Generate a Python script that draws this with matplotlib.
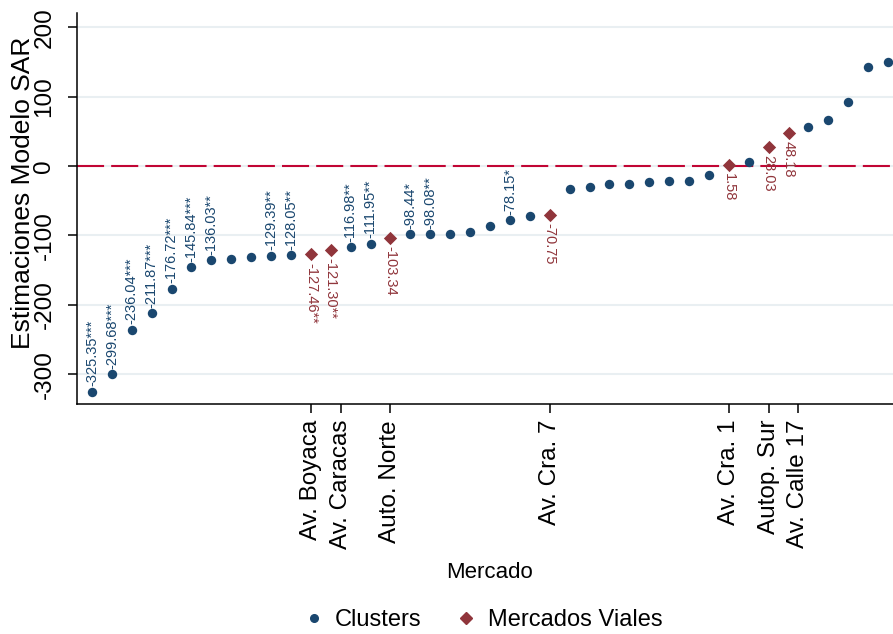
import numpy as np
import matplotlib
matplotlib.use("Agg")
import matplotlib.pyplot as plt
from matplotlib.lines import Line2D

plt.rcParams['font.family'] = ['Liberation Sans', 'DejaVu Sans']

# -----------------------------
# Data: SAR estimates
# -----------------------------
# clusters (None = no label drawn)
cluster_vals = [-325.35, -299.68, -236.04, -211.87, -176.72, -145.84, -136.03,
                -134.3, -131.4, -129.39, -128.05, -116.98, -111.95, -98.44,
                -98.08, -97.6, -95.2, -87.0, -78.15, -72.5, -33.8, -30.9,
                -26.6, -25.6, -22.7, -21.3, -21.3, -12.6, 5.3, 56.5, 66.7,
                92.8, 142.0, 150.0]
cluster_stars = ['***', '***', '***', '***', '***', '***', '**',
                 None, None, '**', '**', '**', '**', '*',
                 '**', None, None, None, '*', None, None, None,
                 None, None, None, None, None, None, None, None, None,
                 None, None, None]

# road markets
vial_names = ['Av. Boyaca', 'Av. Caracas', 'Auto. Norte', 'Av. Cra. 7',
              'Av. Cra. 1', 'Autop. Sur', 'Av. Calle 17']
vial_vals = [-127.46, -121.30, -103.34, -70.75, 1.58, 28.03, 48.18]
vial_stars = ['**', '**', '', '', '', '', '']
tick_shift = [0, 0.5, 0, 0, 0, 0, 0.5]  # nudge crowded tick labels

NAVY = '#1a476f'
MAROON = '#90353b'
ZERO = '#c10534'
GRID = '#e9eff2'

# rank everything together along the x axis
all_vals = np.array(cluster_vals + vial_vals)
order = np.argsort(all_vals, kind='stable')
rank = np.empty(len(all_vals), dtype=int)
rank[order] = np.arange(1, len(all_vals) + 1)
x_cl = rank[:len(cluster_vals)]
x_vi = rank[len(cluster_vals):]

# -----------------------------
# Plot
# -----------------------------
fig = plt.figure(figsize=(8.93, 6.34), dpi=100)
ax = fig.add_axes([0.0862, 0.3628, 0.9138, 0.6167])

yt = [-300, -200, -100, 0, 100, 200]
for y in yt:
    ax.axhline(y, color=GRID, lw=1.5, zorder=0)
ax.axhline(0, color=ZERO, lw=1.5, ls=(0, (13, 3.4)), zorder=1)

ax.scatter(x_cl, cluster_vals, s=46, color=NAVY, linewidths=0, zorder=3)
ax.scatter(x_vi, vial_vals, s=46, marker='D', color=MAROON, linewidths=0, zorder=3)

for x, v, st in zip(x_cl, cluster_vals, cluster_stars):
    if st is None:
        continue
    ax.annotate(f"{v:.2f}{st}", (x, v), xytext=(0, 3.8), textcoords='offset points',
                rotation=90, ha='center', va='bottom', fontsize=10.5, color=NAVY)

for x, v, st in zip(x_vi, vial_vals, vial_stars):
    ax.annotate(f"{v:.2f}{st}", (x, v), xytext=(0, -6), textcoords='offset points',
                rotation=270, ha='center', va='top', fontsize=10.5, color=MAROON)

ax.set_xlim(0.246, 41.25)
ax.set_ylim(-343, 220.5)

ax.set_yticks(yt)
ax.set_yticklabels([str(y) for y in yt], rotation=90, va='center', fontsize=17.5)
ax.set_xticks(x_vi + np.array(tick_shift))
ax.set_xticklabels(vial_names, rotation=90, ha='center', va='top', fontsize=17.5)
ax.tick_params(axis='both', length=6.5, width=1.1, color='black')
ax.tick_params(axis='y', pad=9)
ax.tick_params(axis='x', pad=5)

for side in ['top', 'right']:
    ax.spines[side].set_visible(False)
for side in ['left', 'bottom']:
    ax.spines[side].set_linewidth(1.1)
    ax.spines[side].set_color('black')

fig.text(23.5 / 893, 1 - 193 / 634, 'Estimaciones Modelo SAR', rotation=90,
         ha='center', va='center', fontsize=19)
fig.text(489 / 893, 1 - 572 / 634, 'Mercado', ha='center', va='center', fontsize=16)

handles = [
    Line2D([], [], ls='none', marker='o', ms=5.5, color=NAVY, label='Clusters'),
    Line2D([], [], ls='none', marker='D', ms=6, color=MAROON, label='Mercados Viales'),
]
fig.legend(handles=handles, loc='center', bbox_to_anchor=(0.541, 0.022), ncol=2,
           frameon=False, fontsize=17, handlelength=0.8, handletextpad=0.5,
           columnspacing=1.5, borderaxespad=0, borderpad=0)

fig.savefig('out.png', dpi=100)
